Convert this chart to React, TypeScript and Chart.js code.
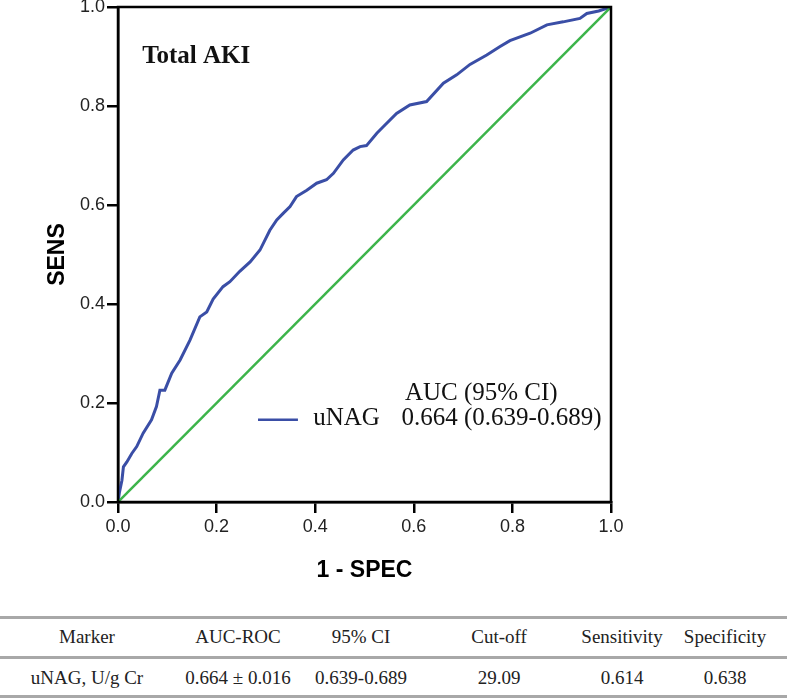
import React, { useEffect, useRef } from "react";
import { Chart, registerables } from "chart.js";

Chart.register(...registerables);

// ROC curve for uNAG (1 - specificity, sensitivity)
const fprValues = [
  0, 0.003, 0.008, 0.011, 0.018, 0.028, 0.038, 0.051, 0.068, 0.078, 0.085, 0.095,
  0.109, 0.126, 0.146, 0.166, 0.18, 0.193, 0.213, 0.227, 0.247, 0.268, 0.288, 0.308,
  0.322, 0.335, 0.349, 0.362, 0.383, 0.403, 0.423, 0.437, 0.457, 0.477, 0.491, 0.504,
  0.525, 0.538, 0.565, 0.592, 0.626, 0.66, 0.687, 0.714, 0.748, 0.775, 0.795, 0.836,
  0.87, 0.903, 0.937, 0.951, 0.975, 1.0,
];
const tprValues = [
  0, 0.02, 0.044, 0.071, 0.081, 0.098, 0.112, 0.139, 0.166, 0.193, 0.226, 0.226,
  0.26, 0.287, 0.327, 0.374, 0.384, 0.41, 0.435, 0.445, 0.466, 0.485, 0.509, 0.549,
  0.57, 0.583, 0.597, 0.617, 0.63, 0.644, 0.651, 0.664, 0.691, 0.711, 0.718, 0.72,
  0.745, 0.758, 0.785, 0.802, 0.809, 0.846, 0.863, 0.884, 0.903, 0.92, 0.932, 0.947,
  0.964, 0.97, 0.977, 0.987, 0.992, 1.0,
];
// reference (chance) line
const refX = [0, 1];
const refY = [0, 1];

const axisMin = 0;
const axisMax = 1;
const tickStep = 0.2;

const chartTitle = "Total AKI";
const seriesName = "uNAG";
const aucHeader = "AUC (95% CI)";
const aucText = "0.664 (0.639-0.689)";
const xTitle = "1 - SPEC";
const yTitle = "SENS";

const tableHeaders = ["Marker", "AUC-ROC", "95% CI", "Cut-off", "Sensitivity", "Specificity"];
const tableRow = ["uNAG, U/g Cr", "0.664 \u00b1 0.016", "0.639-0.689", "29.09", "0.614", "0.638"];
const tableColCenters = [87, 238, 361, 499, 622, 725];

const BLUE = "#3a4ea6";
const GREEN = "#3cb44a";

const annotationPlugin = {
  id: "rocAnnotations",
  afterDraw(chart: any) {
    const { ctx, chartArea, scales } = chart;
    const xs = scales.x;
    const ys = scales.y;
    ctx.save();
    // frame
    ctx.strokeStyle = "#000";
    ctx.lineWidth = 2.5;
    ctx.strokeRect(chartArea.left, chartArea.top, chartArea.right - chartArea.left, chartArea.bottom - chartArea.top);

    ctx.fillStyle = "#111";
    ctx.textBaseline = "alphabetic";
    ctx.textAlign = "left";
    ctx.font = 'bold 25px "Liberation Serif", serif';
    ctx.fillText(chartTitle, xs.getPixelForValue(0.049), ys.getPixelForValue(0.887));

    // legend sample line
    ctx.strokeStyle = BLUE;
    ctx.lineWidth = 2.5;
    ctx.beginPath();
    const ly = ys.getPixelForValue(0.166);
    ctx.moveTo(xs.getPixelForValue(0.284), ly);
    ctx.lineTo(xs.getPixelForValue(0.365), ly);
    ctx.stroke();

    ctx.font = '25px "Liberation Serif", serif';
    ctx.fillStyle = "#111";
    ctx.fillText(seriesName, xs.getPixelForValue(0.396), ys.getPixelForValue(0.156));
    ctx.fillText(aucHeader, xs.getPixelForValue(0.582), ys.getPixelForValue(0.206));
    ctx.fillText(aucText, xs.getPixelForValue(0.575), ys.getPixelForValue(0.156));
    ctx.restore();
  },
};

function ChartBox() {
  const ref = useRef<HTMLCanvasElement | null>(null);
  useEffect(() => {
    if (!ref.current) return;
    const rocData = fprValues.map((x, i) => ({ x, y: tprValues[i] }));
    const diagData = refX.map((x, i) => ({ x, y: refY[i] }));
    const tickFont = { family: '"Liberation Sans", Arial, sans-serif', size: 18 };
    const titleFont = { family: '"Liberation Sans", Arial, sans-serif', size: 23, weight: "bold" as const };
    const chart = new Chart(ref.current, {
      type: "line",
      data: {
        datasets: [
          {
            label: "Reference",
            data: diagData,
            borderColor: GREEN,
            borderWidth: 2.5,
            pointRadius: 0,
            tension: 0,
          },
          {
            label: seriesName,
            data: rocData,
            borderColor: BLUE,
            borderWidth: 3,
            pointRadius: 0,
            tension: 0,
          },
        ],
      },
      options: {
        animation: false,
        responsive: false,
        maintainAspectRatio: false,
        devicePixelRatio: 1,
        layout: { padding: { left: 0, top: 7, right: 176, bottom: 0 } },
        plugins: { legend: { display: false }, tooltip: { enabled: false }, title: { display: false } },
        scales: {
          x: {
            type: "linear",
            min: axisMin,
            max: axisMax,
            ticks: {
              stepSize: tickStep,
              callback: (v: any) => Number(v).toFixed(1),
              font: tickFont,
              color: "#222",
              padding: 3,
              maxRotation: 0,
            },
            grid: { drawOnChartArea: false, drawTicks: true, tickLength: 11, color: "#000", lineWidth: 2.5 },
            border: { display: true, color: "#000", width: 2.5 },
            title: { display: true, text: xTitle, font: titleFont, color: "#000", padding: { top: 0, bottom: 16 } },
            afterFit: (s: any) => {
              s.height = 98;
              s.paddingLeft = 0;
              s.paddingRight = 0;
            },
          },
          y: {
            type: "linear",
            min: axisMin,
            max: axisMax,
            ticks: {
              stepSize: tickStep,
              callback: (v: any) => Number(v).toFixed(1),
              font: tickFont,
              color: "#222",
              padding: 2,
            },
            grid: { drawOnChartArea: false, drawTicks: true, tickLength: 11, color: "#000", lineWidth: 2.5 },
            border: { display: true, color: "#000", width: 2.5 },
            title: { display: true, text: yTitle, font: titleFont, color: "#000", padding: { top: 44, bottom: 0 } },
            afterFit: (s: any) => {
              s.width = 118;
              s.paddingTop = 0;
              s.paddingBottom = 0;
            },
          },
        },
      },
      plugins: [annotationPlugin],
    } as any);
    return () => chart.destroy();
  }, []);
  return (
    <canvas
      ref={ref}
      width={787}
      height={600}
      style={{ position: "absolute", left: 0, top: 0, width: 787, height: 600 }}
    />
  );
}

function Table() {
  const lineStyle = (top: number): React.CSSProperties => ({
    position: "absolute",
    left: 0,
    top,
    width: 787,
    height: 3,
    background: "#a8a8a8",
  });
  const cell = (text: string, center: number, mid: number, key: string) => (
    <div
      key={key}
      style={{
        position: "absolute",
        left: center - 100,
        width: 200,
        top: mid - 12,
        height: 24,
        lineHeight: "24px",
        textAlign: "center",
        fontFamily: '"Liberation Serif", "Times New Roman", serif',
        fontSize: 19,
        color: "#222",
        whiteSpace: "nowrap",
      }}
    >
      {text}
    </div>
  );
  return (
    <>
      <div style={lineStyle(616)} />
      <div style={lineStyle(656)} />
      <div style={lineStyle(695)} />
      {tableHeaders.map((h, i) => cell(h, tableColCenters[i], 637, "h" + i))}
      {tableRow.map((h, i) => cell(h, tableColCenters[i], 678, "r" + i))}
    </>
  );
}

export default function App() {
  return (
    <div style={{ position: "fixed", left: 0, top: 0, width: 787, height: 698, background: "#fff", overflow: "hidden" }}>
      <ChartBox />
      <Table />
    </div>
  );
}
